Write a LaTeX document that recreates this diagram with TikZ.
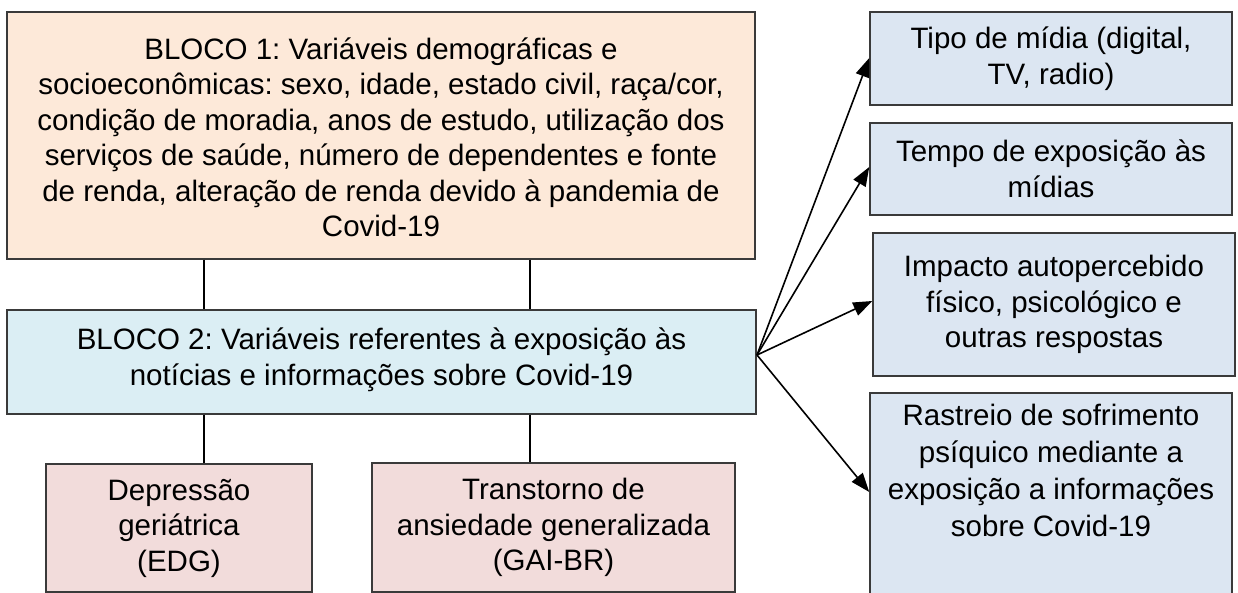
\documentclass[tikz,border=0pt]{standalone}
\usepackage{fontspec}
\setmainfont{Liberation Sans}
\usetikzlibrary{arrows.meta}
\definecolor{peach}{HTML}{FDE9D9}
\definecolor{paleblue}{HTML}{DBEEF4}
\definecolor{steel}{HTML}{DCE6F2}
\definecolor{rose}{HTML}{F2DCDB}
\definecolor{edge}{HTML}{3A3A3A}
\tikzset{
  box/.style={draw=edge, line width=1.5pt, rectangle, inner sep=0pt, align=center,
    font=\fontsize{29.5}{35.5}\selectfont\frenchspacing},
  link/.style={draw=black, line width=1.5pt},
  arr/.style={draw=black, line width=1.6pt, -{Triangle[length=19pt,width=14pt]}},
}
\newcommand{\boxat}[6]{% name, x1,y1,x2,y2, fill
  \node[box, fill=#6, minimum width={(#4-#2)*1pt}, minimum height={(#5-#3)*1pt}]
    (#1) at ({(#2+#4)/2},{(#3+#5)/2}) {};}
\begin{document}
\begin{tikzpicture}[x=1pt,y=-1pt]
\useasboundingbox (0,0) rectangle (1238,593);
\boxat{b1}{7}{12}{755}{259}{peach}
\boxat{b2}{7}{310}{756}{414}{paleblue}
\boxat{edg}{46}{464}{312}{592}{rose}
\boxat{gai}{372}{463}{735}{592}{rose}
\boxat{tipo}{870}{12}{1232}{105}{steel}
\boxat{tempo}{870}{123}{1232}{215}{steel}
\boxat{imp}{873}{233}{1235}{376}{steel}
\boxat{ras}{870}{393}{1232}{640}{steel}
% texts
\node[box, draw=none] at ([yshift=-2pt]b1.center) {BLOCO 1: Variáveis demográficas e\\socioeconômicas: sexo, idade, estado civil, raça/cor,\\condição de moradia, anos de estudo, utilização dos\\serviços de saúde, número de dependentes e fonte\\de renda, alteração de renda devido à pandemia de\\Covid-19};
\node[box, draw=none] at ([yshift=2pt]b2.center) {BLOCO 2: Variáveis referentes à exposição às\\notícias e informações sobre Covid-19};
\node[box, draw=none] at (edg.center) {Depressão\\geriátrica\\(EDG)};
\node[box, draw=none] at (gai.center) {Transtorno de\\ansiedade generalizada\\(GAI-BR)};
\node[box, draw=none] at (tipo.center) {Tipo de mídia (digital,\\TV, radio)};
\node[box, draw=none] at (tempo.center) {Tempo de exposição às\\mídias};
\node[box, draw=none] at (imp.center) {Impacto autopercebido\\físico, psicológico e\\outras respostas};
\node[box, draw=none, anchor=north, font=\fontsize{29.5}{37}\selectfont\frenchspacing] at ([yshift=-11pt]ras.north) {Rastreio de sofrimento\\psíquico mediante a\\exposição a informações\\sobre Covid-19};
% connectors
\draw[link] (b1.south -| 204,0) -- (b2.north -| 204,0);
\draw[link] (b1.south -| 530,0) -- (b2.north -| 530,0);
\draw[link] (b2.south -| 204,0) -- (edg.north -| 204,0);
\draw[link] (b2.south -| 530,0) -- (gai.north -| 530,0);
\coordinate (src) at (757,355);
\draw[arr] (src) -- (tipo.west |- 0,58);
\draw[arr] (src) -- (tempo.west |- 0,167);
\draw[arr] (src) -- (imp.west |- 0,301);
\draw[arr] (src) -- (ras.west |- 0,492);
\end{tikzpicture}
\end{document}
